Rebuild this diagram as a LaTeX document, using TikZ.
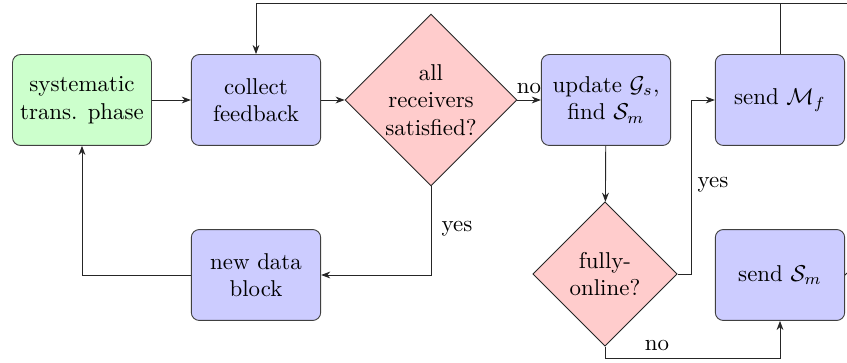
\documentclass[tikz,border=0pt]{standalone}
\usetikzlibrary{shapes.geometric,arrows.meta}
\begin{document}
\begin{tikzpicture}[x=0.4367pt,y=-0.4367pt,
  procbox/.style={rectangle, rounded corners=3.5pt, draw=black!75, fill=blue!20,
    minimum width=56.5pt, minimum height=39.7pt, align=center},
  startbox/.style={procbox, fill=green!20},
  decision/.style={diamond, draw=black!85, fill=red!20, align=center, inner sep=0pt,
    minimum width=#1, minimum height=#1},
  flow/.style={draw=black!85, -{Stealth[length=4pt,width=3pt]}},
  plain/.style={draw=black!85},
  lbl/.style={inner sep=1pt}]
\useasboundingbox (0,0) rectangle (847,363);

% process steps and decisions
\node[startbox] (sys) at (82,100) {systematic\\trans. phase};
\node[procbox] (collect) at (256,100) {collect\\feedback};
\node[decision=75pt] (allsat) at (431,100) {all\\receivers\\satisfied?};
\node[procbox] (update) at (606,100) {update $\mathcal{G}_s$,\\find $\mathcal{S}_m$};
\node[procbox] (sendM) at (780,100) {send $\mathcal{M}_f$};
\node[decision=63pt] (online) at (605,274) {fully-\\online?};
\node[procbox] (sendS) at (780,275) {send $\mathcal{S}_m$};
\node[procbox] (newblock) at (256,275) {new data\\block};

% loose ends leaving the drawing on the right
\coordinate (topR) at (847,3);
\coordinate (sideR) at (847,273);

% main flow
\draw[flow] (sys) -- (collect);
\draw[flow] (collect) -- (allsat);
\draw[flow] (allsat) -- (update);
\draw[flow] (update) -- (online);
\draw[flow] (allsat.south) |- (newblock.east);
\draw[flow] (newblock.west) -| (sys.south);
\draw[flow] (online.east) -- ++(14,0) |- (sendM.west);
\draw[flow] (online.south) -- ++(0,12) -| (sendS.south);

% feedback loop along the top
\draw[flow] (topR) -| (collect.north);
\draw[plain] (sendM.north) -- (sendM.north |- topR);
\draw[plain] (sendS.east) -- (sideR);

% branch labels
\node[lbl] (noA) at (529,89) {no};
\node[lbl] (yesA) at (457,229) {yes};
\node[lbl] (yesB) at (713,185) {yes};
\node[lbl] (noB) at (657,345) {no};
\end{tikzpicture}
\end{document}
